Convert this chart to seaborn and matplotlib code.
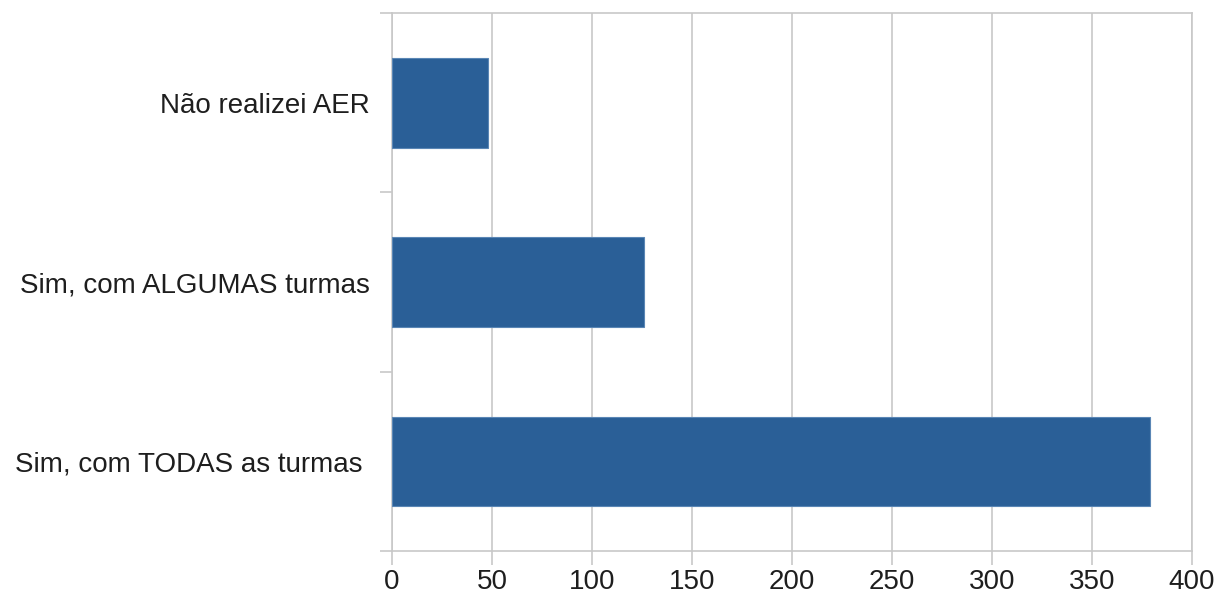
import matplotlib
matplotlib.use("Agg")
import matplotlib.pyplot as plt
import pandas as pd
import seaborn as sns

# Survey answers and counts
answers = ["Não realizei AER", "Sim, com ALGUMAS turmas", "Sim, com TODAS as turmas "]
counts = [48, 126, 379]
x_ticks = [0, 50, 100, 150, 200, 250, 300, 350, 400]

df = pd.DataFrame({"answer": answers, "count": counts})

sns.set_theme(style="white")
plt.rcParams["font.family"] = ["Liberation Sans", "DejaVu Sans"]

grid_col = "#c8c8c8"
text_col = "#1e1e1e"

fig = plt.figure(figsize=(12.19, 5.99), dpi=100)
ax = fig.add_axes([0.3216, 0.0801, 0.6563, 0.8982])

sns.barplot(data=df, x="count", y="answer", color="#2a5f97", width=0.5,
            saturation=1, edgecolor="#5a86b5", linewidth=0.8, ax=ax, zorder=3)

ax.set_xlim(0, 400)
ax.set_ylim(2.5, -0.5)
ax.set_xticks(x_ticks)
ax.grid(axis="x", color=grid_col, linewidth=1.2, zorder=0)
ax.set_axisbelow(True)

# category boundary ticks on the y axis
ax.set_yticks([-0.5, 0.5, 1.5, 2.5], minor=True)
ax.tick_params(axis="y", which="major", length=0, pad=16, labelsize=20,
               labelcolor=text_col)
ax.tick_params(axis="y", which="minor", left=True, length=9, color=grid_col,
               width=1.2)
ax.tick_params(axis="x", which="major", length=10, color=grid_col, width=1.2,
               labelsize=20, pad=3, bottom=True, labelcolor=text_col)

for side in ["left", "top", "bottom", "right"]:
    ax.spines[side].set_visible(True)
    ax.spines[side].set_color(grid_col)
    ax.spines[side].set_linewidth(1.2)

ax.set_xlabel("")
ax.set_ylabel("")

fig.savefig("out.png", dpi=100)
